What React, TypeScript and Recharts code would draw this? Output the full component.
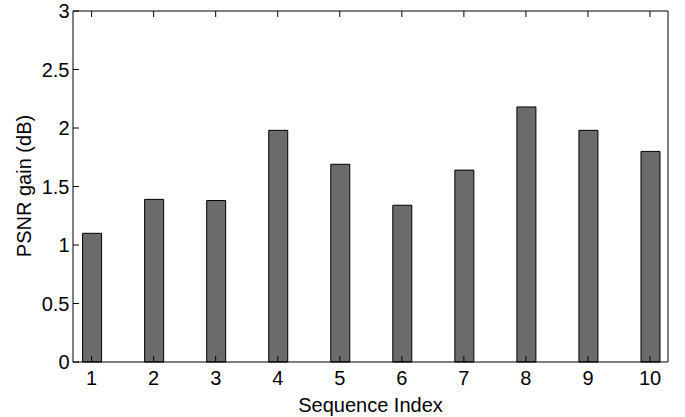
import React from 'react';
import { BarChart, Bar, XAxis, YAxis, Label } from 'recharts';

const sequenceIndex = [1, 2, 3, 4, 5, 6, 7, 8, 9, 10];
const psnrGain = [1.1, 1.39, 1.38, 1.98, 1.69, 1.34, 1.64, 2.18, 1.98, 1.8];
const xTicks = [1, 2, 3, 4, 5, 6, 7, 8, 9, 10];
const yTicks = [0, 0.5, 1, 1.5, 2, 2.5, 3];

const data = sequenceIndex.map((idx, i) => ({ idx, gain: psnrGain[i] }));

const FONT = '"Liberation Sans", Arial, Helvetica, sans-serif';
const TICK_LEN = 6;

// tick marks point inward, like the matlab box
const LeftTick = ({ x, y, payload }: any) => (
  <g>
    <line x1={x} x2={x + TICK_LEN} y1={y} y2={y} stroke="#000" />
    <text x={x - 3.5} y={y} dy={7} textAnchor="end" fontSize={20} fontFamily={FONT} fill="#000">
      {payload.value}
    </text>
  </g>
);

const RightTick = ({ x, y }: any) => (
  <line x1={x - TICK_LEN} x2={x} y1={y} y2={y} stroke="#000" />
);

const BottomTick = ({ x, y, payload }: any) => (
  <g>
    <line x1={x} x2={x} y1={y - TICK_LEN} y2={y} stroke="#000" />
    <text x={x} y={y + 23} textAnchor="middle" fontSize={20} fontFamily={FONT} fill="#000">
      {payload.value}
    </text>
  </g>
);

const TopTick = ({ x, y }: any) => (
  <line x1={x} x2={x} y1={y} y2={y + TICK_LEN} stroke="#000" />
);

export default function App() {
  return (
    <div style={{ position: 'absolute', left: 0, top: 0, background: '#fff' }}>
      <BarChart
        width={685}
        height={417}
        data={data}
        margin={{ top: 10, right: 16, bottom: 0, left: 0 }}
      >
        <XAxis
          xAxisId="bottom"
          dataKey="idx"
          type="number"
          domain={[0.7, 10.29]}
          ticks={xTicks}
          height={55}
          tickSize={0}
          tickMargin={0}
          tickLine={false}
          axisLine={{ stroke: '#000' }}
          tick={<BottomTick />}
          interval={0}
        >
          <Label
            content={({ viewBox }: any) => (
              <text
                x={viewBox.x + viewBox.width / 2}
                y={viewBox.y + 49.5}
                textAnchor="middle"
                fontSize={20}
                fontFamily={FONT}
                fill="#000"
              >
                Sequence Index
              </text>
            )}
          />
        </XAxis>
        <XAxis
          xAxisId="top"
          orientation="top"
          dataKey="idx"
          type="number"
          domain={[0.7, 10.29]}
          ticks={xTicks}
          height={1}
          tickSize={0}
          tickMargin={0}
          tickLine={false}
          axisLine={{ stroke: '#000' }}
          tick={<TopTick />}
          interval={0}
        />
        <YAxis
          yAxisId="left"
          type="number"
          domain={[0, 3]}
          ticks={yTicks}
          width={73}
          tickSize={0}
          tickMargin={0}
          tickLine={false}
          axisLine={{ stroke: '#000' }}
          tick={<LeftTick />}
          interval={0}
        >
          <Label
            content={() => (
              <text
                x={31}
                y={186}
                transform="rotate(-90, 31, 186)"
                textAnchor="middle"
                fontSize={20}
                fontFamily={FONT}
                fill="#000"
              >
                PSNR gain (dB)
              </text>
            )}
          />
        </YAxis>
        <YAxis
          yAxisId="right"
          orientation="right"
          type="number"
          domain={[0, 3]}
          ticks={yTicks}
          width={1}
          tickSize={0}
          tickMargin={0}
          tickLine={false}
          axisLine={{ stroke: '#000' }}
          tick={<RightTick />}
          interval={0}
        />
        <Bar
          xAxisId="bottom"
          yAxisId="left"
          dataKey="gain"
          barSize={19}
          fill="#6b6b6b"
          stroke="#000"
          strokeWidth={1}
          isAnimationActive={false}
        />
      </BarChart>
    </div>
  );
}
